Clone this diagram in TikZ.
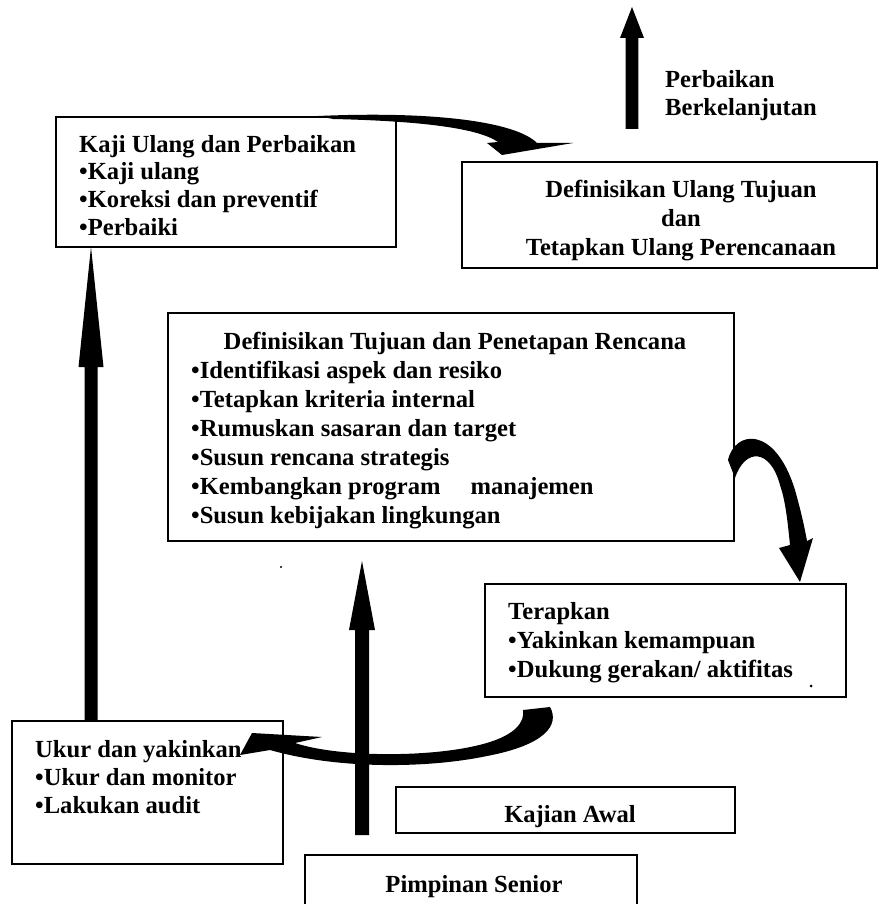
\documentclass[tikz,border=0pt]{standalone}
\usepackage{fontspec}
\setmainfont{Liberation Serif}
\usetikzlibrary{calc}
\begin{document}
\begin{tikzpicture}[x=1pt,y=-1pt,
  box/.style={draw=black,line width=1.6pt,inner sep=0pt,outer sep=0pt,anchor=north west},
  lbl/.style={inner sep=0pt,align=left,font=\bfseries\fontsize{24.6}{28.6}\selectfont},
  ctr/.style={inner sep=0pt,align=center,font=\bfseries\fontsize{24.6}{29}\selectfont}
]
\clip (0,0) rectangle (880,904);
\fill[white] (0,0) rectangle (880,904);

% boxes
\node[box,minimum width=340pt,minimum height=130pt] (kaji) at (56,117) {};
\node[box,minimum width=415pt,minimum height=106pt] (redef) at (462,162) {};
\node[box,minimum width=566pt,minimum height=228pt] (main) at (168,313) {};
\node[box,minimum width=361pt,minimum height=113pt] (terap) at (485,584) {};
\node[box,minimum width=271pt,minimum height=143pt] (ukur) at (12,721) {};
\node[box,minimum width=339pt,minimum height=46pt] (kajian) at (396,787) {};
\node[box,minimum width=332pt,minimum height=80pt] (pimp) at (305,855) {};

% texts (base anchor = baseline of the last line)
\node[lbl,anchor=base west,font=\bfseries\fontsize{24.6}{27.8}\selectfont] (kajit) at (79,235.4)
  {Kaji Ulang dan Perbaikan\\\textbullet Kaji ulang\\\textbullet Koreksi dan preventif\\\textbullet Perbaiki};
\node[ctr,anchor=base] (redeft) at (681,255)
  {Definisikan Ulang Tujuan\\dan\\Tetapkan Ulang Perencanaan};
\node[lbl,anchor=base] (mainh) at (455,349) {Definisikan Tujuan dan Penetapan Rencana};
\node[lbl,anchor=base west,font=\bfseries\fontsize{24.6}{29}\selectfont] (mainl) at (191,523)
  {\textbullet Identifikasi aspek dan resiko\\\textbullet Tetapkan kriteria internal\\\textbullet Rumuskan sasaran dan target\\\textbullet Susun rencana strategis\\\textbullet Kembangkan program\hspace{30pt}manajemen\\\textbullet Susun kebijakan lingkungan};
\node[lbl,anchor=base west,font=\bfseries\fontsize{24.6}{29}\selectfont] (terapt) at (508,677)
  {Terapkan\\\textbullet Yakinkan kemampuan\\\textbullet Dukung gerakan/ aktifitas};
\node[lbl,anchor=base west,font=\bfseries\fontsize{24.6}{28}\selectfont] (ukurt) at (35,813)
  {Ukur dan yakinkan\\\textbullet Ukur dan monitor\\\textbullet Lakukan audit};
\node[ctr,anchor=base] (kajiant) at (570,822) {Kajian Awal};
\node[ctr,anchor=base] (pimpt) at (474,892) {Pimpinan Senior};
\node[lbl,anchor=base west,font=\bfseries\fontsize{24.6}{28}\selectfont] (pbk) at (665,116)
  {Perbaikan\\Berkelanjutan};

% stray marks of the original
\fill (811,686) circle[radius=1.5pt];
\fill (281,567) circle[radius=1.2pt];

% straight arrows (shaft + head as one filled shape)
\coordinate (pb-bot) at (632,129);
\coordinate (pb-top) at (632,7);
\fill ($(pb-bot)+(-6.3,0)$) -- ($(pb-top)+(-6.3,31)$) -- ($(pb-top)+(-12,31)$) -- (pb-top)
  -- ($(pb-top)+(12,31)$) -- ($(pb-top)+(6.3,31)$) -- ($(pb-bot)+(6.3,0)$) -- cycle;

\coordinate (la-b) at ($(ukur.north west)+(79,0)$);
\coordinate (la-t) at ($(kaji.south west)+(35,0)$);
\fill ($(la-b)+(-6.5,0)$) -- ($(la-t)+(-6.5,120)$) -- ($(la-t)+(-12.5,120)$) -- (la-t)
  -- ($(la-t)+(12.5,120)$) -- ($(la-t)+(6.5,120)$) -- ($(la-b)+(6.5,0)$) -- cycle;

\coordinate (c-bot) at (362,835);
\coordinate (c-top) at (362,561);
\fill ($(c-bot)+(-7,0)$) -- ($(c-top)+(-7,69)$) -- ($(c-top)+(-13,69)$) -- (c-top)
  -- ($(c-top)+(13,69)$) -- ($(c-top)+(7,69)$) -- ($(c-bot)+(7,0)$) -- cycle;

% curved arrow: Kaji -> Redef
\coordinate (d-tail) at (318,116);
\coordinate (d-tip) at (502,155);
\fill (d-tail) .. controls (430,111) and (515,121) .. (537,143) -- (573,143) -- (d-tip)
  -- (487,143) -- (498,142) .. controls (478,128) and (420,121) .. (333,119) -- cycle;

% curved arrow: main -> Terapkan
\coordinate (e-tail) at (728,460);
\coordinate (e-tip) at (800,582);
\fill (e-tail) .. controls (735,430) and (775,425) .. (795,490)
  .. controls (802,515) and (805,530) .. (807,541) -- (813,538) -- (e-tip) -- (779,548)
  -- (790,545) .. controls (787,515) and (785,500) .. (780,485)
  .. controls (770,448) and (745,448) .. (735,478) -- cycle;

% curved arrow: Terapkan -> Ukur
\coordinate (f-tail) at (550,707);
\coordinate (f-tip) at (240,755);
\fill (f-tail) .. controls (560,725) and (545,745) .. (487,756)
  .. controls (430,768) and (340,770) .. (270,750) -- (f-tip) -- (252,733) -- (322,737)
  -- (295,743) .. controls (340,758) and (440,758) .. (490,742)
  .. controls (515,734) and (525,722) .. (523,710) -- cycle;
\end{tikzpicture}
\end{document}
